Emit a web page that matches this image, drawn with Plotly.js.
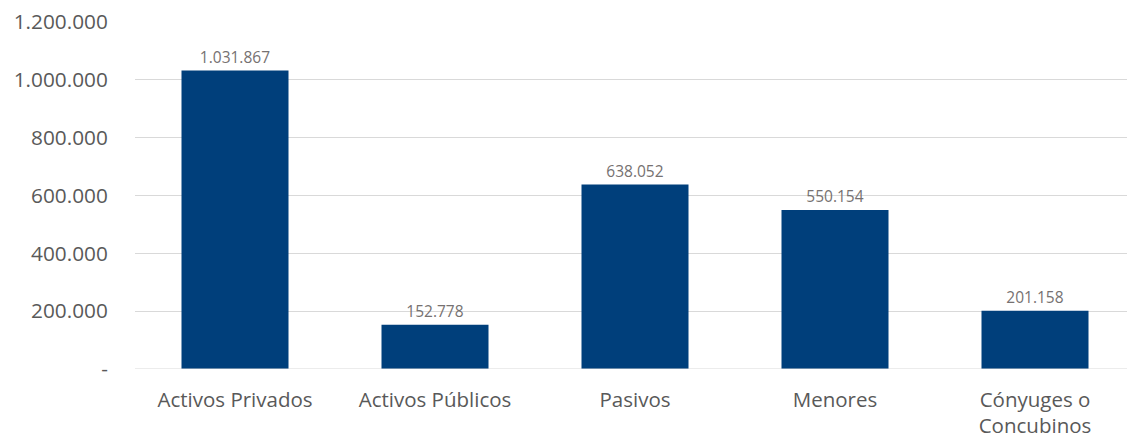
<!DOCTYPE html>
<html>
<head>
<meta charset="utf-8">
<script src="https://cdn.plot.ly/plotly-3.0.1.min.js"></script>
<style>html,body{margin:0;padding:0;background:#fff;}#chart{width:1127px;height:441px;}</style>
</head>
<body>
<div id="chart"></div>
<script>
const categories = ["Activos Privados", "Activos Públicos", "Pasivos", "Menores", "Cónyuges o<br>Concubinos"];
const values = [1031867, 152778, 638052, 550154, 201158];
const yTickVals = [0, 200000, 400000, 600000, 800000, 1000000, 1200000];
const yTickText = ["-", "200.000", "400.000", "600.000", "800.000", "1.000.000", "1.200.000"];

const trace = {
  type: "bar",
  x: categories,
  y: values,
  marker: {color: "#003F7B"},
  width: 0.535,
  texttemplate: "%{y:,}",
  textposition: "outside",
  cliponaxis: false,
  textfont: {family: "'Open Sans', sans-serif", size: 15.5, color: "#767171"},
  hoverinfo: "skip"
};

const layout = {
  width: 1127, height: 441,
  margin: {l: 135, r: 0, t: 22, b: 72},
  separators: ",.",
  paper_bgcolor: "#fff", plot_bgcolor: "#fff",
  showlegend: false,
  font: {family: "'Open Sans', sans-serif", color: "#595959"},
  xaxis: {
    range: [-0.5, 4.46],
    showgrid: false, zeroline: false, showline: false,
    tickfont: {size: 20.5, color: "#595959"},
    ticks: "outside", ticklen: 12, tickcolor: "rgba(0,0,0,0)"
  },
  yaxis: {
    range: [0, 1200000],
    tickvals: yTickVals, ticktext: yTickText,
    showgrid: true, gridcolor: "#D9D9D9", gridwidth: 1,
    zeroline: false, showline: false,
    tickfont: {size: 20.8, color: "#595959"},
    ticks: "outside", ticklen: 22, tickcolor: "rgba(0,0,0,0)"
  },
  shapes: [{type: "line", xref: "paper", x0: 0, x1: 1, yref: "y", y0: 0, y1: 0, line: {color: "#D9D9D9", width: 1}}]
};

Plotly.newPlot("chart", [trace], layout, {displayModeBar: false, staticPlot: true});
</script>
</body>
</html>
